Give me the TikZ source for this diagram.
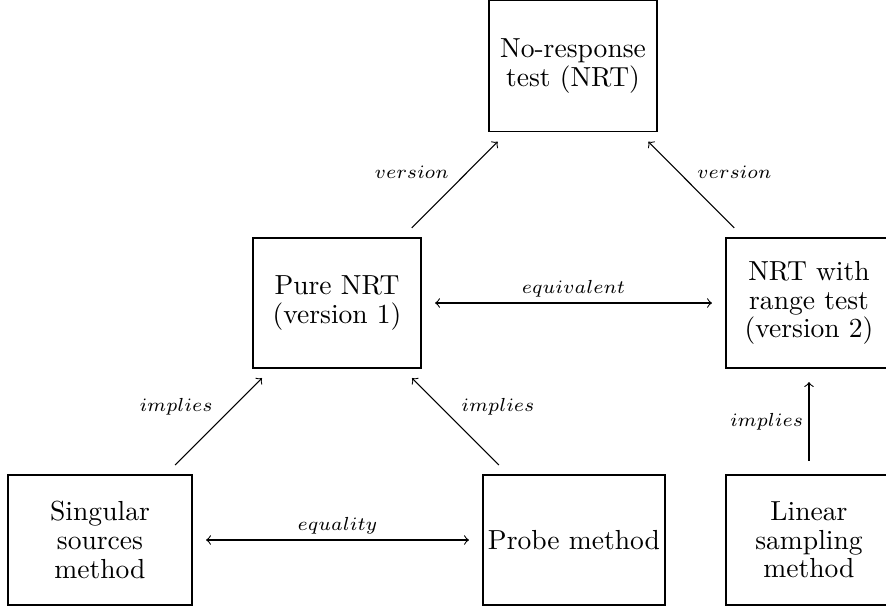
\documentclass[tikz,border=0pt]{standalone}
\begin{document}
\begin{tikzpicture}[x=0.37pt,y=-0.37pt,
  box/.style={draw,line width=0.4pt,inner sep=0pt,align=center,font=\fontsize{10.2}{10.6}\selectfont},
  rel/.style={->,line width=0.4pt,shorten <=5pt,shorten >=5pt},
  relb/.style={<->,line width=0.4pt,shorten <=5pt,shorten >=5pt},
  lab/.style={font=\fontsize{7.5}{9}\selectfont,inner sep=2pt}]
\useasboundingbox (0,0) rectangle (886,608);
\node[box,minimum width=62.16pt,minimum height=48.5pt] (nrt) at (573,66) {No-response\\test (NRT)};
\node[box,minimum width=62.16pt,minimum height=48.1pt] (pure) at (337,303) {Pure NRT\\(version 1)};
\node[box,minimum width=61.42pt,minimum height=48.1pt] (range) at (809,303) {NRT with\\range test\\(version 2)};
\node[box,minimum width=68.08pt,minimum height=48.1pt] (sing) at (100,540) {Singular\\sources\\method};
\node[box,minimum width=67.34pt,minimum height=48.1pt] (probe) at (574,540) {Probe method};
\node[box,minimum width=61.42pt,minimum height=48.1pt] (lin) at (809,540) {Linear\\sampling\\method};
\draw[rel] (pure) -- node[lab,midway,above left] {$version$} (nrt);
\draw[rel] (range) -- node[lab,midway,above right] {$version$} (nrt);
\draw[relb] (pure) -- node[lab,midway,above] {$equivalent$} (range);
\draw[rel] (sing) -- node[lab,midway,above left] {$implies$} (pure);
\draw[rel] (probe) -- node[lab,midway,above right] {$implies$} (pure);
\draw[rel] (lin) -- node[lab,midway,left] {$implies$} (range);
\draw[relb] (sing) -- node[lab,midway,above] {$equality$} (probe);
\end{tikzpicture}
\end{document}
